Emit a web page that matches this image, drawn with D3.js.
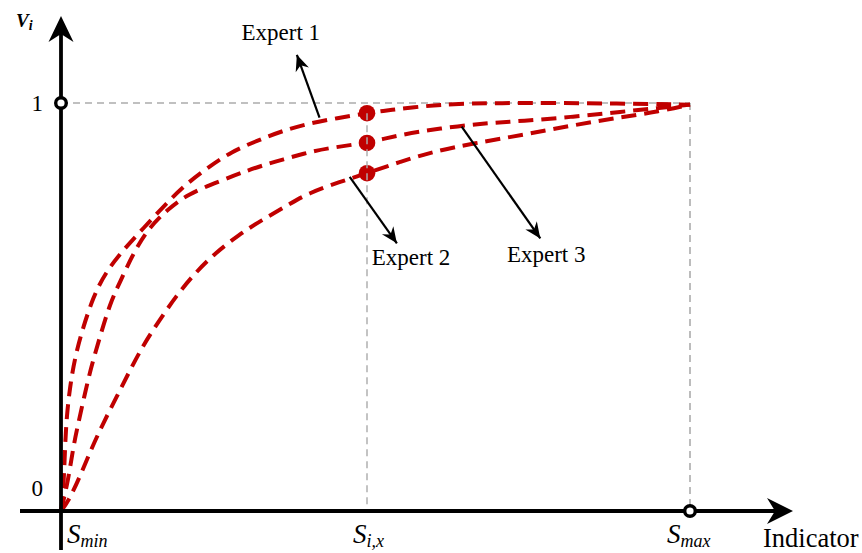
<!DOCTYPE html>
<html>
<head>
<meta charset="utf-8">
<script src="https://cdn.jsdelivr.net/npm/d3@7"></script>
<style>
  html, body { margin: 0; padding: 0; background: #fff; }
  svg { display: block; }
  text { font-family: "Liberation Serif", "Times New Roman", serif; fill: #000; }
</style>
</head>
<body>
<svg id="chart" width="862" height="553"></svg>
<script>
// ---- Data (indicator normalised 0 = S_min, 1 = S_max; value V_i) ----
const expertNames = ["Expert 1", "Expert 2", "Expert 3"];
const expert1X = [0, 0.004, 0.0064, 0.009, 0.0143, 0.0223, 0.0355, 0.0514, 0.070, 0.099, 0.131, 0.165, 0.197, 0.232, 0.271, 0.314, 0.356, 0.404, 0.4865, 0.523, 0.581, 0.629, 0.70, 0.78, 0.88, 1];
const expert1Y = [0, 0.051, 0.158, 0.231, 0.305, 0.378, 0.452, 0.525, 0.583, 0.640, 0.693, 0.750, 0.799, 0.840, 0.881, 0.909, 0.934, 0.954, 0.975, 0.983, 0.993, 0.998, 1.0, 1.0, 0.999, 0.996];
const expert2X = [0, 0.0116, 0.0196, 0.0275, 0.038, 0.0488, 0.062, 0.078, 0.094, 0.115, 0.139, 0.170, 0.202, 0.250, 0.298, 0.340, 0.388, 0.422, 0.4865, 0.539, 0.603, 0.671, 0.734, 0.814, 0.893, 0.947, 1];
const expert2Y = [0, 0.076, 0.158, 0.215, 0.288, 0.358, 0.427, 0.509, 0.562, 0.632, 0.693, 0.740, 0.777, 0.807, 0.836, 0.856, 0.877, 0.889, 0.902, 0.922, 0.938, 0.950, 0.956, 0.966, 0.979, 0.987, 0.996];
const expert3X = [0, 0.0116, 0.030, 0.0488, 0.067, 0.0886, 0.110, 0.131, 0.155, 0.184, 0.213, 0.245, 0.282, 0.319, 0.361, 0.393, 0.444, 0.4865, 0.539, 0.592, 0.656, 0.735, 0.815, 0.894, 0.947, 1];
const expert3Y = [0, 0.023, 0.084, 0.154, 0.215, 0.280, 0.346, 0.407, 0.464, 0.529, 0.583, 0.632, 0.676, 0.713, 0.750, 0.779, 0.807, 0.828, 0.856, 0.881, 0.901, 0.922, 0.946, 0.966, 0.978, 0.996];

// evaluated point S_i,x and values of each expert there
const sIx = 0.4865;
const pointValues = [0.975, 0.902, 0.828];

// axis tick labels
const yTickValues = [0, 1];
const yTickLabels = ["0", "1"];

// annotations: arrow start (on curve) -> arrow tip, label position (data units)
const annotations = [
  { name: "Expert 1", from: [0.411, 0.964], to: [0.375, 1.118], label: [0.287, 1.155] },
  { name: "Expert 2", from: [0.459, 0.819], to: [0.534, 0.656], label: [0.494, 0.603] },
  { name: "Expert 3", from: [0.637, 0.942], to: [0.762, 0.668], label: [0.709, 0.610] }
];

// ---- Layout ----
const svg = d3.select("#chart");
const x = d3.scaleLinear().domain([0, 1]).range([61, 690]);
const y = d3.scaleLinear().domain([0, 1]).range([511, 103]);
const red = "#c00000";

const defs = svg.append("defs");
defs.append("marker")
  .attr("id", "arr")
  .attr("viewBox", "-18 -9 20 18")
  .attr("refX", 0).attr("refY", 0)
  .attr("markerWidth", 20).attr("markerHeight", 18)
  .attr("markerUnits", "userSpaceOnUse")
  .attr("orient", "auto")
  .append("path")
  .attr("d", "M0,0 L-16,-7 L-11,0 L-16,7 Z")
  .attr("fill", "#000");

// ---- Grey guide lines ----
const guide = svg.append("g")
  .attr("stroke", "#acacac").attr("stroke-width", 1.6)
  .attr("stroke-dasharray", "7,5").attr("fill", "none");
guide.append("line").attr("x1", x(0)).attr("x2", x(1)).attr("y1", y(1)).attr("y2", y(1));
guide.append("line").attr("x1", x(1)).attr("x2", x(1)).attr("y1", y(1)).attr("y2", y(0));

// ---- Curves ----
const series = [
  expert1X.map((v, i) => [v, expert1Y[i]]),
  expert2X.map((v, i) => [v, expert2Y[i]]),
  expert3X.map((v, i) => [v, expert3Y[i]])
];
const line = d3.line()
  .x(d => x(d[0])).y(d => y(d[1]))
  .curve(d3.curveBasis);

svg.append("g").selectAll("path")
  .data(series).join("path")
  .attr("d", line)
  .attr("fill", "none")
  .attr("stroke", red)
  .attr("stroke-width", 4)
  .attr("stroke-dasharray", "15,8");

// ---- Points at S_i,x ----
svg.append("g").selectAll("circle")
  .data(pointValues).join("circle")
  .attr("cx", x(sIx)).attr("cy", d => y(d))
  .attr("r", 8.3).attr("fill", red);

// vertical guide at S_i,x (drawn over the points)
svg.append("line")
  .attr("x1", x(sIx)).attr("x2", x(sIx))
  .attr("y1", y(d3.max(pointValues))).attr("y2", y(0))
  .attr("stroke", "#acacac").attr("stroke-width", 1.6)
  .attr("stroke-dasharray", "7,5").attr("stroke-opacity", 0.9);

// ---- Axes ----
const ax = svg.append("g").attr("stroke", "#000").attr("stroke-width", 3.8);
ax.append("line").attr("x1", 20).attr("x2", 780).attr("y1", y(0)).attr("y2", y(0));
ax.append("line").attr("x1", x(0)).attr("x2", x(0)).attr("y1", 550).attr("y2", 30);
// arrow heads
svg.append("path")
  .attr("d", `M${x(0)},16 L${x(0) - 12.5},42 L${x(0)},34 L${x(0) + 12.5},42 Z`)
  .attr("fill", "#000");
svg.append("path")
  .attr("d", `M793,${y(0)} L767,${y(0) - 13} L775,${y(0)} L767,${y(0) + 13} Z`)
  .attr("fill", "#000");

// open circle markers
svg.append("g").selectAll("circle")
  .data([[0, 1], [1, 0]]).join("circle")
  .attr("cx", d => x(d[0])).attr("cy", d => y(d[1]))
  .attr("r", 5.3).attr("fill", "#fff")
  .attr("stroke", "#000").attr("stroke-width", 3.4);

// y tick labels
svg.append("g").selectAll("text")
  .data(yTickValues).join("text")
  .attr("x", 43)
  .attr("y", d => y(d) + (d === 1 ? 8 : -15))
  .attr("text-anchor", "end")
  .attr("font-size", 23)
  .text((d, i) => yTickLabels[i]);

// y axis title V_i
const vt = svg.append("text").attr("x", 16).attr("y", 27)
  .attr("font-size", 19).attr("font-weight", "bold").attr("font-style", "italic");
vt.append("tspan").text("V");
vt.append("tspan").attr("font-size", 14).attr("dy", 3).text("i");

// x labels
function sLabel(px, sub) {
  const t = svg.append("text").attr("x", px).attr("y", 543)
    .attr("font-size", 27).attr("font-style", "italic");
  t.append("tspan").text("S");
  t.append("tspan").attr("font-size", 18).attr("dy", 4).text(sub);
}
sLabel(x(0) + 6, "min");
sLabel(x(sIx) - 14, "i,x");
sLabel(x(1) - 23, "max");

svg.append("text").attr("x", 763).attr("y", 547)
  .attr("font-size", 26.5).text("Indicator");

// ---- Annotations ----
const ann = svg.append("g");
ann.selectAll("line")
  .data(annotations).join("line")
  .attr("x1", d => x(d.from[0])).attr("y1", d => y(d.from[1]))
  .attr("x2", d => x(d.to[0])).attr("y2", d => y(d.to[1]))
  .attr("stroke", "#000").attr("stroke-width", 2.2)
  .attr("marker-end", "url(#arr)");
ann.selectAll("text")
  .data(annotations).join("text")
  .attr("x", d => x(d.label[0])).attr("y", d => y(d.label[1]))
  .attr("font-size", 23)
  .text(d => d.name);
</script>
</body>
</html>
